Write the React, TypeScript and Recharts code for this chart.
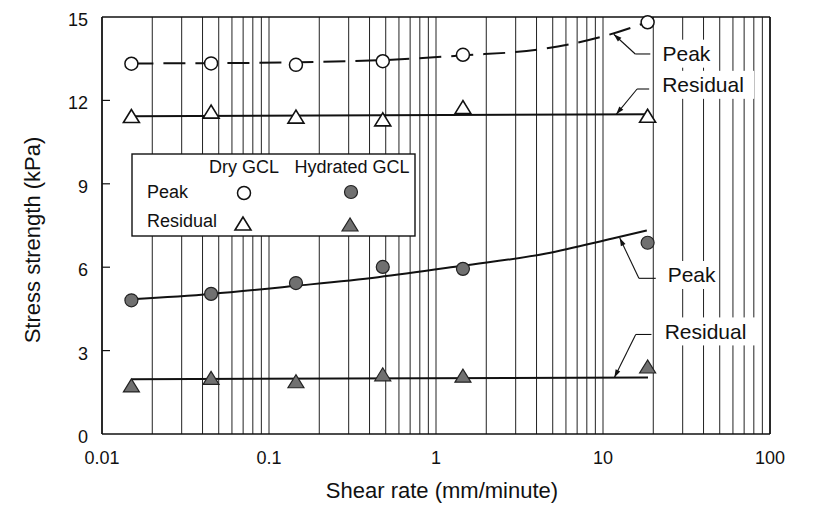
import React from "react"
import {
    ComposedChart,
    Line,
    Scatter,
    XAxis,
    YAxis,
    CartesianGrid,
    ReferenceLine,
    ReferenceDot,
} from "recharts"

// measured shear rates (mm/minute)
const shearRates = [0.015, 0.045, 0.145, 0.48, 1.45, 18.5]

// stress strength (kPa)
const dryPeak = [13.32, 13.33, 13.28, 13.41, 13.64, 14.81]
const dryResidual = [11.42, 11.58, 11.4, 11.3, 11.74, 11.43]
const hydratedPeak = [4.81, 5.04, 5.43, 6.01, 5.94, 6.88]
const hydratedResidual = [1.73, 2.0, 1.88, 2.13, 2.08, 2.41]

// fitted trend lines
const dryPeakFitX = [0.015, 0.045, 0.145, 0.48, 1.45, 4.1, 10.4, 17.7]
const dryPeakFitY = [13.33, 13.34, 13.37, 13.45, 13.62, 13.83, 14.33, 14.78]
const dryResidualFitX = [0.015, 19]
const dryResidualFitY = [11.43, 11.5]
const hydratedPeakFitX = [0.015, 0.045, 0.145, 0.45, 1.43, 4.57, 11.4, 18.3]
const hydratedPeakFitY = [4.85, 5.04, 5.33, 5.64, 6.05, 6.49, 7.03, 7.32]
const hydratedResidualFitX = [0.015, 18.6]
const hydratedResidualFitY = [1.97, 2.03]

// axes
const decades = [0.01, 0.1, 1, 10, 100]
const minorSteps = [1, 2, 3, 4, 5, 6, 7, 8, 9]
const yTicks = [0, 3, 6, 9, 12, 15]
const innerYTicks = [3, 6, 9, 12]

// callouts: tip on the curve, elbow, end of the short horizontal, text anchor
const callouts = [
    { label: "Peak", tip: [11.6, 14.38], elbow: [15.6, 13.67], end: [19.2, 13.67], text: [22.7, 13.68] },
    { label: "Residual", tip: [12.0, 11.5], elbow: [16.0, 12.41], end: [18.9, 12.41], text: [22.6, 12.56] },
    { label: "Peak", tip: [12.6, 7.05], elbow: [16.4, 5.6], end: [20.7, 5.6], text: [24.4, 5.72] },
    { label: "Residual", tip: [11.7, 2.03], elbow: [15.7, 3.58], end: [19.5, 3.58], text: [23.4, 3.69] },
]

const FONT = '"Liberation Sans", Arial, Helvetica, sans-serif'
const GREY = "#707070"

const gridTicks = decades
    .slice(0, -1)
    .flatMap(d => minorSteps.map(s => Number((d * s).toPrecision(3))))
    .concat(100)

const toPoints = (xs: number[], ys: number[]) => xs.map((x, i) => ({ x, y: ys[i] }))

const dryPeakPts = toPoints(shearRates, dryPeak)
const dryResidualPts = toPoints(shearRates, dryResidual)
const hydPeakPts = toPoints(shearRates, hydratedPeak)
const hydResidualPts = toPoints(shearRates, hydratedResidual)

function OpenCircle({ cx, cy }: any) {
    return <circle cx={cx} cy={cy} r={6.5} fill="#fff" stroke="#111" strokeWidth={1.5} />
}
function FilledCircle({ cx, cy }: any) {
    return <circle cx={cx} cy={cy} r={6.5} fill={GREY} stroke="#222" strokeWidth={1.2} />
}
function OpenTriangle({ cx, cy }: any) {
    return (
        <polygon
            points={`${cx},${cy - 7} ${cx - 8},${cy + 6} ${cx + 8},${cy + 6}`}
            fill="#fff"
            stroke="#111"
            strokeWidth={1.6}
        />
    )
}
function FilledTriangle({ cx, cy }: any) {
    return (
        <polygon
            points={`${cx},${cy - 7} ${cx - 8},${cy + 6} ${cx + 8},${cy + 6}`}
            fill={GREY}
            stroke="#222"
            strokeWidth={1.2}
        />
    )
}

function XTick({ x, y, payload }: any) {
    if (!decades.includes(payload.value)) return null
    return (
        <text x={x} y={y + 24} textAnchor="middle" dominantBaseline="central" fontSize={18} fill="#111" fontFamily={FONT}>
            {payload.value}
        </text>
    )
}

function LeftTick({ x, y, payload }: any) {
    return (
        <g>
            {payload.value > 0 && payload.value < 15 && (
                <line x1={x} y1={y} x2={x + 8} y2={y} stroke="#111" strokeWidth={1.2} />
            )}
            <text x={x - 14} y={y + 3} textAnchor="end" dominantBaseline="central" fontSize={18} fill="#111" fontFamily={FONT}>
                {payload.value}
            </text>
        </g>
    )
}

function RightTick({ x, y }: any) {
    return <line x1={x - 8} y1={y} x2={x} y2={y} stroke="#111" strokeWidth={1.2} />
}

// leader line with a small arrow head at the first point
function ArrowLine(props: any) {
    const { x1, y1, x2, y2 } = props
    const ang = Math.atan2(y1 - y2, x1 - x2)
    const len = 8
    const w = 2.6
    const bx = x1 - len * Math.cos(ang)
    const by = y1 - len * Math.sin(ang)
    const px = -Math.sin(ang) * w
    const py = Math.cos(ang) * w
    return (
        <g>
            <line x1={x1} y1={y1} x2={x2} y2={y2} stroke="#111" strokeWidth={1.1} />
            <polygon points={`${x1},${y1} ${bx + px},${by + py} ${bx - px},${by - py}`} fill="#111" />
        </g>
    )
}

function CalloutText(label: string) {
    return ({ cx, cy }: any) => {
        const w = label.length * 11 + 8
        return (
            <g>
                <rect x={cx - 4} y={cy - 14} width={w} height={28} fill="#fff" />
                <text x={cx} y={cy} dominantBaseline="central" fontSize={21} fill="#111" fontFamily={FONT}>
                    {label}
                </text>
            </g>
        )
    }
}

function LegendBox() {
    const textStyle = { fontSize: 18, fill: "#111", fontFamily: FONT }
    return (
        <svg
            width={286}
            height={86}
            style={{ position: "absolute", left: 131, top: 153 }}
        >
            <rect x={1} y={1} width={283} height={82} fill="#fff" stroke="#111" strokeWidth={1.4} />
            <text x={113} y={14} textAnchor="middle" dominantBaseline="central" {...textStyle}>Dry GCL</text>
            <text x={221} y={14} textAnchor="middle" dominantBaseline="central" {...textStyle}>Hydrated GCL</text>
            <text x={16} y={39} dominantBaseline="central" {...textStyle}>Peak</text>
            <text x={16} y={68} dominantBaseline="central" {...textStyle}>Residual</text>
            <OpenCircle cx={113} cy={40} />
            <FilledCircle cx={220} cy={39} />
            <OpenTriangle cx={112} cy={71} />
            <FilledTriangle cx={219} cy={72} />
        </svg>
    )
}

export default function App() {
    return (
        <div style={{ position: "absolute", left: 0, top: 0, width: 815, height: 508, background: "#fff", fontFamily: FONT }}>
            <ComposedChart width={815} height={508} margin={{ top: 17, right: 0, bottom: 0, left: 0 }}>
                <CartesianGrid horizontal={false} stroke="#222" strokeWidth={1} strokeOpacity={1} />
                <XAxis
                    dataKey="x"
                    type="number"
                    scale="log"
                    domain={[0.01, 100]}
                    ticks={gridTicks}
                    interval={0}
                    allowDataOverflow
                    height={74}
                    tickSize={0}
                    tickMargin={0}
                    tick={<XTick />}
                    axisLine={{ stroke: "#111", strokeWidth: 1.6 }}
                    label={{
                        content: ({ viewBox }: any) => (
                            <text
                                x={viewBox.x + viewBox.width / 2 + 6}
                                y={viewBox.y + 56}
                                textAnchor="middle"
                                dominantBaseline="central"
                                fontSize={22}
                                fill="#111"
                                fontFamily={FONT}
                            >
                                Shear rate (mm/minute)
                            </text>
                        ),
                    }}
                />
                <YAxis
                    type="number"
                    domain={[0, 15]}
                    ticks={yTicks}
                    width={102}
                    tickSize={0}
                    tickMargin={0}
                    tick={<LeftTick />}
                    axisLine={{ stroke: "#111", strokeWidth: 1.6 }}
                    label={{
                        content: () => (
                            <text
                                x={32}
                                y={240}
                                transform="rotate(-90, 32, 240)"
                                textAnchor="middle"
                                dominantBaseline="central"
                                fontSize={22}
                                fill="#111"
                                fontFamily={FONT}
                            >
                                Stress strength (kPa)
                            </text>
                        ),
                    }}
                />
                <YAxis
                    yAxisId="r"
                    orientation="right"
                    type="number"
                    domain={[0, 15]}
                    ticks={innerYTicks}
                    width={45}
                    tickSize={0}
                    tickMargin={0}
                    tick={<RightTick />}
                    axisLine={{ stroke: "#111", strokeWidth: 1.6 }}
                />
                <ReferenceLine y={15} stroke="#111" strokeWidth={1.6} />

                <Line
                    data={toPoints(dryPeakFitX, dryPeakFitY)}
                    dataKey="y"
                    type="monotone"
                    stroke="#111"
                    strokeWidth={2}
                    strokeDasharray="22 10"
                    dot={false}
                    activeDot={false}
                    isAnimationActive={false}
                />
                <Line
                    data={toPoints(dryResidualFitX, dryResidualFitY)}
                    dataKey="y"
                    type="linear"
                    stroke="#111"
                    strokeWidth={2}
                    dot={false}
                    activeDot={false}
                    isAnimationActive={false}
                />
                <Line
                    data={toPoints(hydratedPeakFitX, hydratedPeakFitY)}
                    dataKey="y"
                    type="monotone"
                    stroke="#111"
                    strokeWidth={2}
                    dot={false}
                    activeDot={false}
                    isAnimationActive={false}
                />
                <Line
                    data={toPoints(hydratedResidualFitX, hydratedResidualFitY)}
                    dataKey="y"
                    type="linear"
                    stroke="#111"
                    strokeWidth={2}
                    dot={false}
                    activeDot={false}
                    isAnimationActive={false}
                />

                {callouts.map((c, i) => (
                    <ReferenceLine
                        key={`a${i}`}
                        segment={[{ x: c.tip[0], y: c.tip[1] }, { x: c.elbow[0], y: c.elbow[1] }]}
                        shape={ArrowLine}
                    />
                ))}
                {callouts.map((c, i) => (
                    <ReferenceLine
                        key={`h${i}`}
                        segment={[{ x: c.elbow[0], y: c.elbow[1] }, { x: c.end[0], y: c.end[1] }]}
                        stroke="#111"
                        strokeWidth={1.1}
                    />
                ))}
                {callouts.map((c, i) => (
                    <ReferenceDot key={`t${i}`} x={c.text[0]} y={c.text[1]} r={0} shape={CalloutText(c.label)} />
                ))}

                <Scatter data={dryPeakPts} dataKey="y" shape={<OpenCircle />} isAnimationActive={false} />
                <Scatter data={dryResidualPts} dataKey="y" shape={<OpenTriangle />} isAnimationActive={false} />
                <Scatter data={hydPeakPts} dataKey="y" shape={<FilledCircle />} isAnimationActive={false} />
                <Scatter data={hydResidualPts} dataKey="y" shape={<FilledTriangle />} isAnimationActive={false} />
            </ComposedChart>
            <LegendBox />
        </div>
    )
}
